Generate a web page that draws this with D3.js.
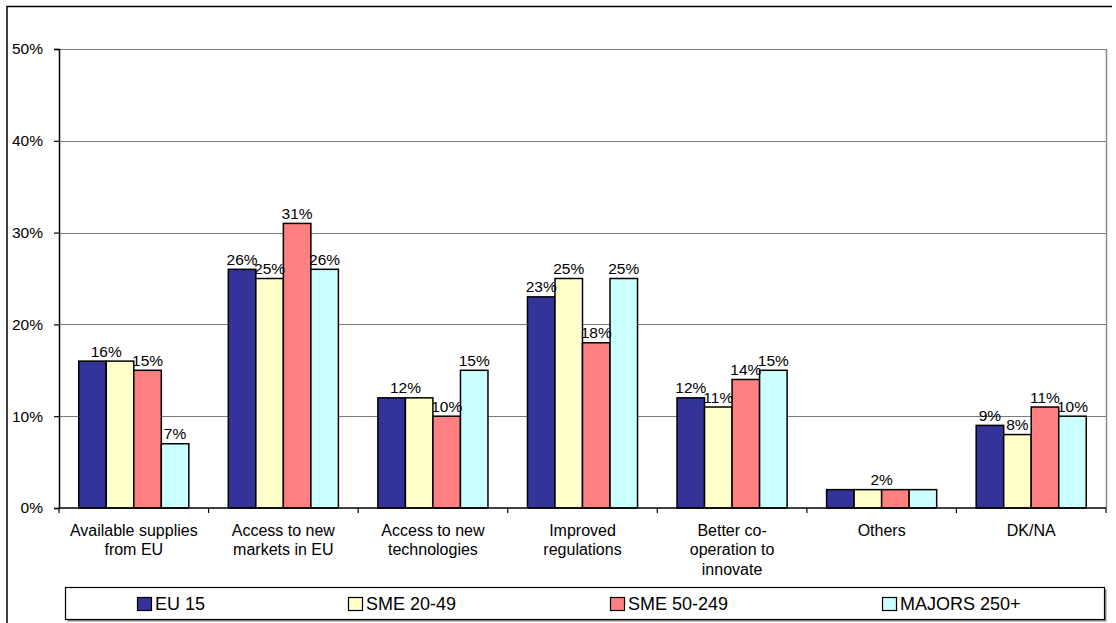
<!DOCTYPE html>
<html>
<head>
<meta charset="utf-8">
<script src="https://cdn.jsdelivr.net/npm/d3@7"></script>
<style>
  html, body { margin: 0; padding: 0; background: #fff; }
  svg { display: block; font-family: "Liberation Sans", Arial, sans-serif; }
</style>
</head>
<body>
<svg id="chart" width="1116" height="623"></svg>
<script>
// Benefits expected from EU membership, share of respondents by company size
const categories = [
  ["Available supplies", "from EU"],
  ["Access to new", "markets in EU"],
  ["Access to new", "technologies"],
  ["Improved", "regulations"],
  ["Better co-", "operation to", "innovate"],
  ["Others"],
  ["DK/NA"]
];
const seriesNames = ["EU 15", "SME 20-49", "SME 50-249", "MAJORS 250+"];
const eu15      = [16, 26, 12, 23, 12, 2, 9];
const sme20_49  = [16, 25, 12, 25, 11, 2, 8];
const sme50_249 = [15, 31, 10, 18, 14, 2, 11];
const majors250 = [7, 26, 15, 25, 15, 2, 10];
const yTicks = [0, 10, 20, 30, 40, 50];

const seriesValues = [eu15, sme20_49, sme50_249, majors250];
const colors = ["#333399", "#FFFFCC", "#FF8080", "#CCFFFF"];

const svg = d3.select("#chart");
const plot = { left: 59, right: 1106, top: 49, bottom: 508 };

// outer chart frame
svg.append("path")
  .attr("d", "M7,623 V6.5 H1112")
  .attr("fill", "none").attr("stroke", "#000").attr("stroke-width", 1.5);

const y = d3.scaleLinear().domain([0, 50]).range([plot.bottom, plot.top]);
const x0 = d3.scaleBand()
  .domain(d3.range(categories.length))
  .range([plot.left, plot.right])
  .paddingInner(0.264).paddingOuter(0.132);
const x1 = d3.scaleBand()
  .domain(d3.range(seriesNames.length))
  .range([0, x0.bandwidth()]);

// gridlines
svg.append("g").selectAll("line")
  .data(yTicks.filter(t => t > 0))
  .join("line")
  .attr("x1", plot.left).attr("x2", plot.right)
  .attr("y1", d => Math.round(y(d)) + 0.5).attr("y2", d => Math.round(y(d)) + 0.5)
  .attr("stroke", "#7a7a7a").attr("stroke-width", 1.2);

// right border of plot area
svg.append("line")
  .attr("x1", plot.right + 0.5).attr("x2", plot.right + 0.5)
  .attr("y1", y(50)).attr("y2", plot.bottom)
  .attr("stroke", "#8a8a8a").attr("stroke-width", 1.5);

// bars
const groups = svg.append("g").selectAll("g")
  .data(categories.map((c, i) => i))
  .join("g")
  .attr("transform", i => `translate(${x0(i)},0)`);

groups.selectAll("rect")
  .data(i => seriesValues.map((s, k) => ({ k, v: s[i] })))
  .join("rect")
  .attr("x", d => x1(d.k))
  .attr("y", d => y(d.v))
  .attr("width", x1.bandwidth())
  .attr("height", d => y(0) - y(d.v))
  .attr("fill", d => colors[d.k])
  .attr("stroke", "#000").attr("stroke-width", 1.5);

// value labels: neighbouring bars with the same value share one label
groups.each(function(i) {
  const vals = seriesValues.map(s => s[i]);
  const runs = [];
  vals.forEach((v, k) => {
    const last = runs[runs.length - 1];
    if (last && last.v === v) last.end = k; else runs.push({ v, start: k, end: k });
  });
  d3.select(this).selectAll("text.val")
    .data(runs)
    .join("text")
    .attr("class", "val")
    .attr("x", r => (x1(r.start) + x1(r.end) + x1.bandwidth()) / 2)
    .attr("y", r => y(r.v) - 4.5)
    .attr("text-anchor", "middle")
    .attr("font-size", 15.5)
    .attr("fill", "#000")
    .text(r => r.v + "%");
});

// y axis
const yAxis = d3.axisLeft(y).tickValues(yTicks).tickSize(5).tickPadding(11)
  .tickFormat(d => d + "%");
const ya = svg.append("g").attr("transform", `translate(${plot.left},0)`).call(yAxis);
ya.select(".domain").attr("stroke", "#000").attr("stroke-width", 1.5);
ya.selectAll(".tick line").attr("stroke", "#000").attr("stroke-width", 1.2);
ya.selectAll(".tick text").attr("font-size", 15.5).attr("fill", "#000")
  .attr("font-family", "Liberation Sans, Arial, sans-serif");

// x axis baseline with category boundary ticks
const boundaries = d3.range(categories.length + 1)
  .map(i => plot.left + i * x0.step());
svg.append("line")
  .attr("x1", plot.left).attr("x2", plot.right)
  .attr("y1", plot.bottom).attr("y2", plot.bottom)
  .attr("stroke", "#000").attr("stroke-width", 1.5);
svg.append("g").selectAll("line")
  .data(boundaries)
  .join("line")
  .attr("x1", d => d).attr("x2", d => d)
  .attr("y1", plot.bottom).attr("y2", plot.bottom + 5)
  .attr("stroke", "#000").attr("stroke-width", 1.2);

// category labels
svg.append("g").selectAll("text")
  .data(categories.map((c, i) => ({ c, i })))
  .join("text")
  .attr("text-anchor", "middle")
  .attr("font-size", 16)
  .attr("fill", "#000")
  .each(function(d) {
    d3.select(this).selectAll("tspan")
      .data(d.c)
      .join("tspan")
      .attr("x", x0(d.i) + x0.bandwidth() / 2)
      .attr("y", (t, j) => 535.5 + j * 19.5)
      .text(t => t);
  });

// legend
const legendBox = { x: 65.5, y: 587.5, w: 1039, h: 32 };
svg.append("rect")
  .attr("x", legendBox.x + 2).attr("y", legendBox.y + 2)
  .attr("width", legendBox.w).attr("height", legendBox.h)
  .attr("fill", "#8a8a8a");
svg.append("rect")
  .attr("x", legendBox.x).attr("y", legendBox.y)
  .attr("width", legendBox.w).attr("height", legendBox.h)
  .attr("fill", "#fff").attr("stroke", "#000").attr("stroke-width", 1.2);

const legendX = [137, 348, 610, 882];
const legend = svg.append("g").selectAll("g")
  .data(seriesNames.map((n, k) => ({ n, k })))
  .join("g")
  .attr("transform", d => `translate(${legendX[d.k]},0)`);
legend.append("rect")
  .attr("x", 0.5).attr("y", 597.5)
  .attr("width", 14).attr("height", 13)
  .attr("fill", d => colors[d.k])
  .attr("stroke", "#000").attr("stroke-width", 1.2);
legend.append("text")
  .attr("x", 18).attr("y", 609.5)
  .attr("font-size", 18)
  .attr("fill", "#000")
  .text(d => d.n);
</script>
</body>
</html>
